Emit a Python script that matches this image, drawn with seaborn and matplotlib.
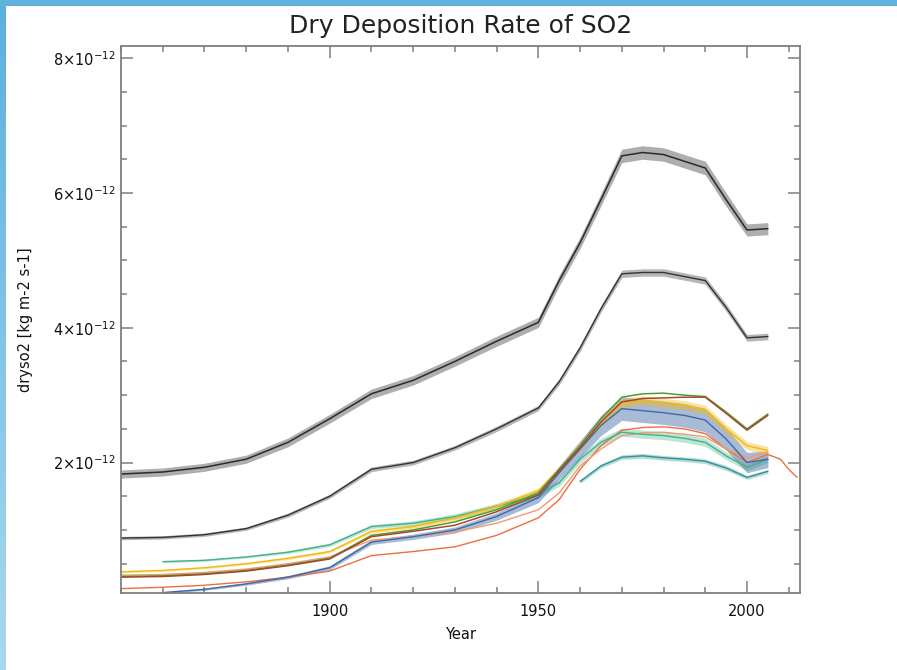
import numpy as np
import pandas as pd
import matplotlib
matplotlib.use("Agg")
import matplotlib.pyplot as plt
from matplotlib.ticker import FixedLocator, MultipleLocator, FuncFormatter
from matplotlib.colors import LinearSegmentedColormap
import seaborn as sns

# ---- data (units of 1e-12 kg m-2 s-1) ----
SCALE = 1e-12

years_black = [1850, 1860, 1870, 1880, 1890, 1900, 1910, 1915, 1920, 1930, 1940,
               1950, 1955, 1960, 1965, 1970, 1975, 1980, 1985, 1990, 1995, 2000, 2005]
black_top = [1.83, 1.86, 1.93, 2.05, 2.30, 2.65, 3.02, 3.12, 3.22, 3.50, 3.80,
             4.08, 4.70, 5.26, 5.90, 6.55, 6.60, 6.57, 6.47, 6.37, 5.90, 5.45, 5.47]
black_top_cycle = [0.12, 0.12, 0.12, 0.12, 0.13, 0.13, 0.14, 0.14, 0.14, 0.14, 0.15,
                   0.15, 0.16, 0.17, 0.18, 0.20, 0.20, 0.20, 0.20, 0.20, 0.20, 0.18, 0.18]
black_low = [0.88, 0.89, 0.93, 1.02, 1.22, 1.50, 1.90, 1.95, 2.00, 2.22, 2.50,
             2.81, 3.20, 3.70, 4.28, 4.80, 4.82, 4.82, 4.76, 4.70, 4.30, 3.85, 3.87]
black_low_cycle = [0.05, 0.05, 0.05, 0.05, 0.06, 0.06, 0.07, 0.07, 0.07, 0.07, 0.08,
                   0.08, 0.09, 0.10, 0.10, 0.11, 0.11, 0.11, 0.11, 0.11, 0.11, 0.10, 0.10]

years = [1850, 1860, 1870, 1880, 1890, 1900, 1910, 1920, 1930, 1940, 1950,
         1955, 1960, 1965, 1970, 1975, 1980, 1985, 1990, 1995, 2000, 2005]
yellow = [0.38, 0.40, 0.44, 0.50, 0.58, 0.68, 0.98, 1.05, 1.18, 1.35, 1.58,
          1.90, 2.25, 2.60, 2.88, 2.92, 2.88, 2.85, 2.78, 2.50, 2.25, 2.18]
yellow_cycle = [0.03, 0.03, 0.03, 0.03, 0.04, 0.04, 0.05, 0.06, 0.07, 0.08, 0.09,
                0.10, 0.12, 0.13, 0.14, 0.14, 0.14, 0.14, 0.14, 0.13, 0.12, 0.12]
dark_green = [0.31, 0.32, 0.35, 0.40, 0.48, 0.58, 0.92, 1.00, 1.12, 1.30, 1.55,
              1.90, 2.25, 2.65, 2.97, 3.02, 3.03, 3.00, 2.98, 2.75, 2.50, 2.72]
brown = [0.30, 0.31, 0.34, 0.39, 0.47, 0.57, 0.90, 0.98, 1.07, 1.27, 1.52,
         1.88, 2.22, 2.60, 2.90, 2.95, 2.96, 2.97, 2.97, 2.73, 2.48, 2.70]
light_orange = [0.33, 0.34, 0.37, 0.42, 0.50, 0.60, 0.85, 0.90, 0.97, 1.10, 1.30,
                1.55, 1.95, 2.20, 2.40, 2.44, 2.45, 2.42, 2.38, 2.20, 2.07, 2.15]

years_1860 = years[1:]
blue = [0.07, 0.12, 0.20, 0.30, 0.44, 0.82, 0.90, 1.00, 1.20, 1.48,
        1.85, 2.20, 2.55, 2.80, 2.77, 2.74, 2.70, 2.63, 2.35, 2.00, 2.05]
blue_cycle = [0.03, 0.03, 0.04, 0.05, 0.06, 0.07, 0.08, 0.09, 0.11, 0.15,
              0.20, 0.25, 0.30, 0.35, 0.35, 0.35, 0.35, 0.35, 0.33, 0.30, 0.25]
teal = [0.53, 0.55, 0.60, 0.67, 0.78, 1.05, 1.10, 1.20, 1.35, 1.52,
        1.70, 2.05, 2.30, 2.45, 2.42, 2.40, 2.36, 2.30, 2.10, 1.93, 2.05]
teal_cycle = [0.03, 0.03, 0.03, 0.04, 0.05, 0.06, 0.07, 0.08, 0.09, 0.10,
              0.10, 0.11, 0.12, 0.12, 0.12, 0.12, 0.12, 0.12, 0.11, 0.10, 0.10]

years_1960 = [1960, 1965, 1970, 1975, 1980, 1985, 1990, 1995, 2000, 2005]
dark_teal = [1.72, 1.95, 2.08, 2.10, 2.07, 2.05, 2.02, 1.92, 1.78, 1.87]
dark_teal_cycle = [0.06, 0.06, 0.07, 0.07, 0.07, 0.07, 0.07, 0.07, 0.06, 0.06]

years_ext = years + [2008, 2010, 2012]
orange_red = [0.13, 0.15, 0.18, 0.23, 0.30, 0.39, 0.62, 0.68, 0.75, 0.92, 1.18,
              1.45, 1.90, 2.25, 2.48, 2.52, 2.53, 2.50, 2.43, 2.20, 2.00, 2.12,
              2.05, 1.90, 1.78]

x_min, x_max = 1850, 2012.7
y_min, y_max = 0.065, 8.18

# ---- figure ----
sns.set_style("white")
plt.rcParams["font.family"] = ["DejaVu Sans"]

fig = plt.figure(figsize=(8.97, 6.70), dpi=100)
fig.patch.set_facecolor("white")

# frame decoration: blue band along the top and a fading band on the left
top_ax = fig.add_axes([0, 1 - 6 / 670, 1, 6 / 670])
top_ax.set_axis_off()
top_ax.add_patch(plt.Rectangle((0, 0), 1, 1, color="#5fb3dd", transform=top_ax.transAxes))
left_ax = fig.add_axes([0, 0, 5 / 897, 1 - 6 / 670])
grad = np.linspace(0, 1, 256).reshape(-1, 1)
edge_cmap = LinearSegmentedColormap.from_list("edge", ["#5cb0dc", "#a9d8ef"])
left_ax.imshow(grad, aspect="auto", cmap=edge_cmap, origin="upper")
left_ax.set_axis_off()

ax = fig.add_axes([121 / 897, 1 - 593 / 670, 679 / 897, 547 / 670])


def frame(name, yrs, vals):
    return pd.DataFrame({"Year": yrs, "value": np.array(vals) * SCALE, "series": name})


series = [
    ("orange_red", years_ext, orange_red, "#ee6e42", 1.0),
    ("light_orange", years, light_orange, "#f29a6c", 1.0),
    ("dark_teal", years_1960, dark_teal, "#2f9494", 1.0),
    ("teal", years_1860, teal, "#43b389", 1.0),
    ("blue", years_1860, blue, "#3e68a6", 1.0),
    ("yellow", years, yellow, "#f2b912", 1.0),
    ("dark_green", years, dark_green, "#4f9c36", 1.1),
    ("brown", years, brown, "#a8482a", 1.1),
    ("black_low", years_black, black_low, "#333333", 1.0),
    ("black_top", years_black, black_top, "#2a2a2a", 1.1),
]

# seasonal-cycle envelopes of the oscillating series
bands = [
    (years_1960, dark_teal, dark_teal_cycle, "#2f9494", 0.35),
    (years_1860, teal, teal_cycle, "#43b389", 0.35),
    (years_1860, blue, blue_cycle, "#3e68a6", 0.45),
    (years, yellow, yellow_cycle, "#f2b912", 0.4),
    (years_black, black_low, black_low_cycle, "#333333", 0.35),
    (years_black, black_top, black_top_cycle, "#2a2a2a", 0.38),
]
for yrs, vals, cyc, col, a in bands:
    v = np.array(vals)
    c = np.array(cyc)
    ax.fill_between(yrs, (v - c / 2) * SCALE, (v + c / 2) * SCALE,
                    color=col, alpha=a, lw=0)

data = pd.concat([frame(n, y, v) for n, y, v, _, _ in series], ignore_index=True)
for n, _, _, c, lw in series:
    sns.lineplot(data=data[data["series"] == n], x="Year", y="value",
                 color=c, lw=lw, ax=ax, legend=False, estimator=None)

ax.set_xlim(x_min, x_max)
ax.set_ylim(y_min * SCALE, y_max * SCALE)

# ---- axes styling ----
spine_col = "#7f7f7f"
for s in ax.spines.values():
    s.set_visible(True)
    s.set_color(spine_col)
    s.set_linewidth(1.3)

ax.xaxis.set_major_locator(FixedLocator([1900, 1950, 2000]))
ax.xaxis.set_minor_locator(MultipleLocator(10))
ax.yaxis.set_major_locator(FixedLocator([2e-12, 4e-12, 6e-12, 8e-12]))
ax.yaxis.set_minor_locator(MultipleLocator(0.5e-12))


def sci(v, pos):
    m = int(round(v / SCALE))
    return r"$%d{\times}10^{-12}$" % m


ax.yaxis.set_major_formatter(FuncFormatter(sci))
ax.xaxis.set_major_formatter(FuncFormatter(lambda v, p: "%d" % v))

ax.tick_params(which="both", direction="in", bottom=True, left=True, top=True, right=True,
               color=spine_col, width=1.1, labelsize=10.5, labelcolor="#111111")
ax.tick_params(which="major", length=8.5)
ax.tick_params(which="minor", length=4.5)
ax.tick_params(axis="y", which="major", pad=4)
ax.tick_params(axis="x", which="major", pad=8)

ax.set_xlabel("Year", fontsize=10.5, labelpad=6, color="#111111")
ax.set_ylabel("dryso2 [kg m-2 s-1]", fontsize=10.5, labelpad=14, color="#111111")
ax.set_title("Dry Deposition Rate of SO2", fontsize=18, pad=9, color="#222222")

fig.savefig("out.png", dpi=100, facecolor="white")
